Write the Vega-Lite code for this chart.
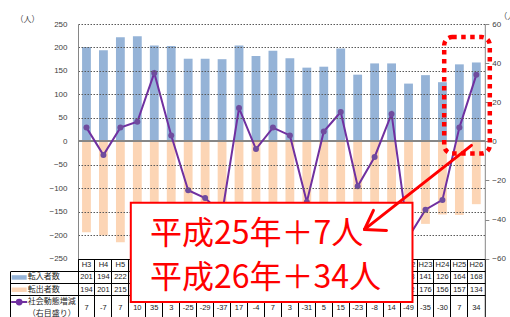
{
  "$schema": "https://vega.github.io/schema/vega-lite/v6.json",
  "padding": {"left": 7, "top": 12, "right": 0, "bottom": 0},
  "bounds": "flush",
  "columns": 2,
  "spacing": 0,
  "config": {"view": {"stroke": null}, "font": "Liberation Sans"},
  "datasets": {
    "main": [
      {"year": "H3", "in": 201, "out": 194, "chg": 7},
      {"year": "H4", "in": 194, "out": 201, "chg": -7},
      {"year": "H5", "in": 222, "out": 215, "chg": 7},
      {"year": "H6", "in": 224, "out": 214, "chg": 10},
      {"year": "H7", "in": 204, "out": 169, "chg": 35},
      {"year": "H8", "in": 203, "out": 200, "chg": 3},
      {"year": "H9", "in": 176, "out": 201, "chg": -25},
      {"year": "H10", "in": 176, "out": 205, "chg": -29},
      {"year": "H11", "in": 175, "out": 212, "chg": -37},
      {"year": "H12", "in": 204, "out": 187, "chg": 17},
      {"year": "H13", "in": 182, "out": 186, "chg": -4},
      {"year": "H14", "in": 193, "out": 186, "chg": 7},
      {"year": "H15", "in": 177, "out": 174, "chg": 3},
      {"year": "H16", "in": 157, "out": 188, "chg": -31},
      {"year": "H17", "in": 159, "out": 154, "chg": 5},
      {"year": "H18", "in": 198, "out": 183, "chg": 15},
      {"year": "H19", "in": 142, "out": 165, "chg": -23},
      {"year": "H20", "in": 166, "out": 174, "chg": -8},
      {"year": "H21", "in": 166, "out": 152, "chg": 14},
      {"year": "H22", "in": 123, "out": 172, "chg": -49},
      {"year": "H23", "in": 141, "out": 176, "chg": -35},
      {"year": "H24", "in": 126, "out": 156, "chg": -30},
      {"year": "H25", "in": 164, "out": 157, "chg": 7},
      {"year": "H26", "in": 168, "out": 134, "chg": 34}
    ],
    "keys": [
      {"series": "転入者数", "row": "in"},
      {"series": "転出者数", "row": "out"},
      {"series": "社会動態増減", "row": "chg", "note": "（右目盛り）"}
    ]
  },
  "concat": [
    {
      "width": 68, "height": 234.6,
      "data": {"values": [{}]},
      "mark": {"type": "text", "text": ""},
      "encoding": {}
    },
    {
      "width": 406.8, "height": 234.6,
      "data": {"name": "main"},
      "layer": [
        {
          "mark": {"type": "bar", "color": "#95B3D7"},
          "encoding": {
            "x": {"field": "year", "type": "nominal", "sort": null, "scale": {"type": "band", "paddingInner": 0.48, "paddingOuter": 0.24}, "axis": null},
            "y": {"field": "in", "type": "quantitative", "scale": {"domain": [-250, 250], "nice": false},
              "axis": {"orient": "left", "values": [-250, -200, -150, -100, -50, 0, 50, 100, 150, 200, 250],
                "grid": true, "gridColor": "#595959", "gridDash": [1.5, 1.5],
                "gridOpacity": {"condition": {"test": "datum.value === 0", "value": 0}, "value": 1},
                "domainColor": "#868686", "ticks": false, "labelPadding": 11, "labelFontSize": 8, "labelColor": "#404040",
                "title": "（人）", "titleAngle": 0, "titleX": -51, "titleY": -5, "titleAlign": "center", "titleBaseline": "middle",
                "titleFontSize": 8, "titleFontWeight": "normal", "titleColor": "#404040", "titleFont": "Noto Sans CJK JP", "zindex": 1}}
          }
        },
        {
          "mark": {"type": "bar", "color": "#FCD5B5"},
          "encoding": {
            "x": {"field": "year", "type": "nominal", "sort": null},
            "y": {"field": "out", "type": "quantitative", "scale": {"domain": [-250, 250], "nice": false, "reverse": true}, "axis": null}
          }
        },
        {
          "mark": {"type": "rule", "color": "#868686"},
          "encoding": {
            "y": {"datum": 0, "type": "quantitative", "scale": {"domain": [-250, 250], "nice": false}, "axis": null}
          }
        },
        {
          "mark": {"type": "line", "color": "#7030A0", "strokeWidth": 2, "point": {"filled": true, "size": 36, "color": "#6F4C9E"}},
          "encoding": {
            "x": {"field": "year", "type": "nominal", "sort": null},
            "y": {"field": "chg", "type": "quantitative", "scale": {"domain": [-60, 60], "nice": false},
              "axis": {"orient": "right", "values": [-60, -40, -20, 0, 20, 40, 60], "grid": false,
                "domainColor": "#868686", "tickColor": "#868686", "tickSize": 4, "labelPadding": 3, "labelFontSize": 8, "labelColor": "#404040",
                "title": "（人）", "titleAngle": 0, "titleX": 14, "titleY": -8, "titleAlign": "left", "titleBaseline": "middle",
                "titleFontSize": 8, "titleFontWeight": "normal", "titleColor": "#404040", "titleFont": "Noto Sans CJK JP"}}
          }
        }
      ],
      "resolve": {"scale": {"y": "independent"}}
    },
    {
      "width": 68, "height": 61.5,
      "data": {"name": "keys"},
      "layer": [
        {
          "transform": [{"filter": "datum.row !== 'chg'"}],
          "mark": {"type": "point", "shape": "M-1,-0.3H1V0.3H-1Z", "filled": true, "size": 225, "opacity": 1},
          "encoding": {
            "x": {"datum": "k", "type": "nominal", "bandPosition": 0.135, "scale": {"type": "band", "domain": ["k"], "paddingInner": 0, "paddingOuter": 0}, "axis": null},
            "y": {"field": "row", "type": "nominal", "scale": {"type": "band", "domain": ["hdr", "in", "out", "chg", "chg2"], "paddingInner": 0, "paddingOuter": 0},
              "axis": {"orient": "left", "domain": true, "domainColor": "black", "domainDash": [0, 12.3, 49.2], "ticks": false, "labels": false, "title": null, "grid": false}},
            "color": {"field": "series", "type": "nominal", "scale": {"domain": ["転入者数", "転出者数", "社会動態増減"], "range": ["#95B3D7", "#FCD5B5", "#7030A0"]}, "legend": null}
          }
        },
        {
          "transform": [{"filter": "datum.row === 'chg'"}],
          "mark": {"type": "point", "shape": "M-1,0H1M0.3,0A0.3,0.3,0,1,1,-0.3,0A0.3,0.3,0,1,1,0.3,0", "filled": true, "size": 256, "opacity": 1, "stroke": "#7030A0", "strokeWidth": 2},
          "encoding": {
            "x": {"datum": "k", "type": "nominal", "bandPosition": 0.135},
            "y": {"field": "row", "type": "nominal"},
            "color": {"field": "series", "type": "nominal", "legend": null}
          }
        },
        {
          "mark": {"type": "text", "align": "left", "baseline": "middle", "fontSize": 8, "font": "Noto Sans CJK JP", "color": "#262626"},
          "encoding": {
            "x": {"datum": "k", "type": "nominal", "bandPosition": 0.26},
            "y": {"field": "row", "type": "nominal"},
            "text": {"field": "series"}
          }
        },
        {
          "transform": [{"filter": "datum.note"}],
          "mark": {"type": "text", "align": "left", "baseline": "middle", "fontSize": 8, "font": "Noto Sans CJK JP", "color": "#262626"},
          "encoding": {
            "x": {"datum": "k", "type": "nominal", "bandPosition": 0.26},
            "y": {"datum": "chg2", "type": "nominal"},
            "text": {"field": "note"}
          }
        }
      ]
    },
    {
      "width": 406.8, "height": 61.5,
      "view": {"stroke": "black"},
      "layer": [
        {
          "data": {"name": "main"},
          "mark": {"type": "text", "fontSize": 7.5, "color": "#1a1a1a"},
          "encoding": {
            "x": {"field": "year", "type": "nominal",
              "scale": {"type": "band", "domain": ["H3","H4","H5","H6","H7","H8","H9","H10","H11","H12","H13","H14","H15","H16","H17","H18","H19","H20","H21","H22","H23","H24","H25","H26"], "paddingInner": 0, "paddingOuter": 0},
              "axis": {"orient": "top", "bandPosition": 0, "grid": true, "gridColor": "black", "gridOpacity": 1, "ticks": false, "labels": false, "domain": false, "title": null}},
            "y": {"datum": "hdr", "type": "nominal", "scale": {"type": "band", "domain": ["hdr", "in", "out", "chg", "chg2"], "paddingInner": 0, "paddingOuter": 0},
              "axis": {"orient": "left", "values": ["in", "out", "chg"], "bandPosition": 0, "grid": true, "gridColor": "black", "gridOpacity": 1,
                "ticks": true, "tickSize": 68, "tickColor": "black", "labels": false, "domain": false, "title": null}},
            "text": {"field": "year"}
          }
        },
        {
          "data": {"name": "main"},
          "mark": {"type": "text", "fontSize": 7.5, "color": "#1a1a1a"},
          "encoding": {
            "x": {"field": "year", "type": "nominal",
              "scale": {"type": "band", "domain": ["H3","H4","H5","H6","H7","H8","H9","H10","H11","H12","H13","H14","H15","H16","H17","H18","H19","H20","H21","H22","H23","H24","H25","H26"], "paddingInner": 0, "paddingOuter": 0}, "axis": null},
            "y": {"datum": "in", "type": "nominal", "scale": {"type": "band", "domain": ["hdr", "in", "out", "chg", "chg2"], "paddingInner": 0, "paddingOuter": 0}, "axis": null},
            "text": {"field": "in"}
          }
        },
        {
          "data": {"name": "main"},
          "mark": {"type": "text", "fontSize": 7.5, "color": "#1a1a1a"},
          "encoding": {
            "x": {"field": "year", "type": "nominal",
              "scale": {"type": "band", "domain": ["H3","H4","H5","H6","H7","H8","H9","H10","H11","H12","H13","H14","H15","H16","H17","H18","H19","H20","H21","H22","H23","H24","H25","H26"], "paddingInner": 0, "paddingOuter": 0}, "axis": null},
            "y": {"datum": "out", "type": "nominal", "scale": {"type": "band", "domain": ["hdr", "in", "out", "chg", "chg2"], "paddingInner": 0, "paddingOuter": 0}, "axis": null},
            "text": {"field": "out"}
          }
        },
        {
          "data": {"name": "main"},
          "mark": {"type": "text", "fontSize": 7.5, "color": "#1a1a1a"},
          "encoding": {
            "x": {"field": "year", "type": "nominal",
              "scale": {"type": "band", "domain": ["H3","H4","H5","H6","H7","H8","H9","H10","H11","H12","H13","H14","H15","H16","H17","H18","H19","H20","H21","H22","H23","H24","H25","H26"], "paddingInner": 0, "paddingOuter": 0}, "axis": null},
            "y": {"datum": "chg", "type": "nominal", "bandPosition": 1, "scale": {"type": "band", "domain": ["hdr", "in", "out", "chg", "chg2"], "paddingInner": 0, "paddingOuter": 0}, "axis": null},
            "text": {"field": "chg"}
          }
        },
        {
          "data": {"values": [{}]},
          "mark": {"type": "rect", "fill": null, "filled": false, "stroke": "#FF0000", "strokeWidth": 4.5, "strokeDash": [4.5, 4.5], "cornerRadius": 8},
          "encoding": {
            "x": {"datum": 24.105, "type": "quantitative", "scale": {"domain": [2.5, 26.5], "nice": false, "zero": false}, "axis": null},
            "x2": {"datum": 26.795},
            "y": {"datum": 222.9, "type": "quantitative", "scale": {"domain": [-381.07, -250], "nice": false, "zero": false}, "axis": null},
            "y2": {"datum": -25.0}
          }
        },
        {
          "data": {"values": [{}]},
          "mark": {"type": "rect", "fill": "white", "stroke": "#FF0000", "strokeWidth": 2},
          "encoding": {
            "x": {"datum": 5.615, "type": "quantitative", "scale": {"domain": [2.5, 26.5], "nice": false, "zero": false}, "axis": null},
            "x2": {"datum": 22.234},
            "y": {"datum": -130.0, "type": "quantitative", "scale": {"domain": [-381.07, -250], "nice": false, "zero": false}, "axis": null},
            "y2": {"datum": -341.4}
          }
        },
        {
          "data": {"values": [{}]},
          "mark": {"type": "text", "text": "平成25年＋7人", "align": "left", "baseline": "middle", "fontSize": 32, "font": "Noto Sans CJK JP", "color": "#FF0000"},
          "encoding": {
            "x": {"datum": 6.748, "type": "quantitative", "scale": {"domain": [2.5, 26.5], "nice": false, "zero": false}, "axis": null},
            "y": {"datum": -197.6, "type": "quantitative", "scale": {"domain": [-381.07, -250], "nice": false, "zero": false}, "axis": null}
          }
        },
        {
          "data": {"values": [{}]},
          "mark": {"type": "text", "text": "平成26年＋34人", "align": "left", "baseline": "middle", "fontSize": 32, "font": "Noto Sans CJK JP", "color": "#FF0000"},
          "encoding": {
            "x": {"datum": 6.748, "type": "quantitative", "scale": {"domain": [2.5, 26.5], "nice": false, "zero": false}, "axis": null},
            "y": {"datum": -291.3, "type": "quantitative", "scale": {"domain": [-381.07, -250], "nice": false, "zero": false}, "axis": null}
          }
        },
        {
          "data": {"values": [{}]},
          "mark": {"type": "rule", "color": "#FF0000", "strokeWidth": 3, "strokeCap": "round"},
          "encoding": {
            "x": {"datum": 25.715, "type": "quantitative", "scale": {"domain": [2.5, 26.5], "nice": false, "zero": false}, "axis": null},
            "x2": {"datum": 19.403},
            "y": {"datum": -7.9, "type": "quantitative", "scale": {"domain": [-381.07, -250], "nice": false, "zero": false}, "axis": null},
            "y2": {"datum": -186.9}
          }
        },
        {
          "data": {"values": [{}]},
          "mark": {"type": "rule", "color": "#FF0000", "strokeWidth": 3, "strokeCap": "round"},
          "encoding": {
            "x": {"datum": 19.403, "type": "quantitative", "scale": {"domain": [2.5, 26.5], "nice": false, "zero": false}, "axis": null},
            "x2": {"datum": 19.93},
            "y": {"datum": -186.9, "type": "quantitative", "scale": {"domain": [-381.07, -250], "nice": false, "zero": false}, "axis": null},
            "y2": {"datum": -146.4}
          }
        },
        {
          "data": {"values": [{}]},
          "mark": {"type": "rule", "color": "#FF0000", "strokeWidth": 3, "strokeCap": "round"},
          "encoding": {
            "x": {"datum": 19.403, "type": "quantitative", "scale": {"domain": [2.5, 26.5], "nice": false, "zero": false}, "axis": null},
            "x2": {"datum": 20.70},
            "y": {"datum": -186.9, "type": "quantitative", "scale": {"domain": [-381.07, -250], "nice": false, "zero": false}, "axis": null},
            "y2": {"datum": -189.0}
          }
        }
      ],
      "resolve": {"scale": {"x": "independent", "y": "independent"}}
    }
  ]
}
